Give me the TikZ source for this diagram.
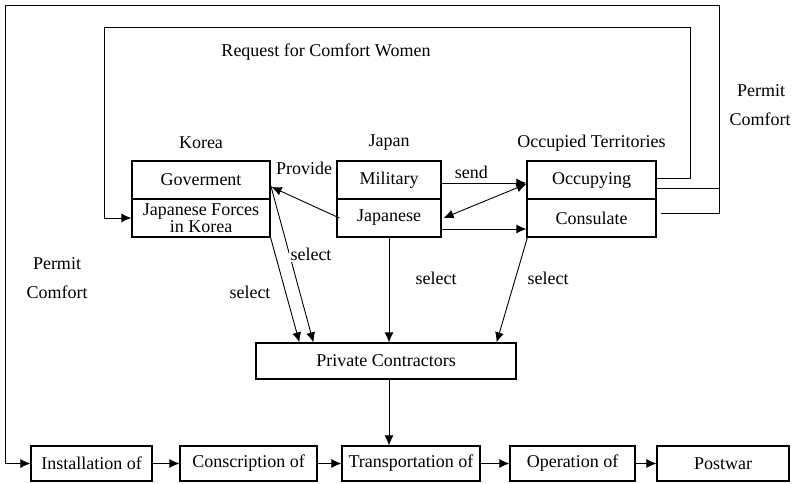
\documentclass[tikz,border=0pt]{standalone}
\usepackage{fontspec}
\setmainfont{Liberation Serif}
\usetikzlibrary{arrows.meta,calc,positioning}
\newcommand{\rowh}{38pt}
\tikzset{
    boxsty/.style={draw,line width=1.2pt,fill=white,rectangle,minimum height=\rowh,inner sep=2pt,anchor=center,align=center},
    lblsty/.style={inner sep=1pt,anchor=center},
    selsty/.style={fill=white,inner sep=2pt,anchor=center},
    consty/.style={line width=0.9pt},
}
\begin{document}
\begin{tikzpicture}[x=1pt,y=-1pt,>={Latex[length=10pt,width=9pt]},font=\fontsize{18}{16}\selectfont]
  \useasboundingbox (0,0) rectangle (797,484);

  % frame corners
  \coordinate (outerNW) at (5,5);
  \coordinate (outerNE) at (719,5);
  \coordinate (innerNW) at (104,27);
  \coordinate (innerNE) at (690,27);

  % Korea
  \node[boxsty,minimum width=138pt] (gov) at (201,180) {Goverment};
  \node[boxsty,minimum width=138pt,font=\fontsize{18}{17}\selectfont] (jfk) at (201,218) {Japanese Forces\\in Korea};
  % Japan
  \node[boxsty,minimum width=104pt] (mil) at (389,180) {Military};
  \node[boxsty,minimum width=104pt] (jpn) at (389,218) {Japanese};
  % Occupied Territories
  \node[boxsty,minimum width=129pt] (ocp) at (591.5,180) {Occupying};
  \node[boxsty,minimum width=129pt] (cns) at (591.5,218) {Consulate};

  \node[boxsty,minimum width=260pt,minimum height=36pt] (pc) at (386,361) {Private Contractors};

  % process chain
  \node[boxsty,minimum width=121pt,minimum height=35pt] (ins) at (91.5,463.5) {Installation of};
  \node[boxsty,minimum width=137pt,minimum height=35pt] (con) at (248.5,463.5) {Conscription of};
  \node[boxsty,minimum width=138pt,minimum height=35pt] (tra) at (411,463.5) {Transportation of};
  \node[boxsty,minimum width=125pt,minimum height=35pt] (ope) at (572.5,463.5) {Operation of};
  \node[boxsty,minimum width=132pt,minimum height=35pt] (pos) at (723,463.5) {Postwar};

  % headings
  \node[lblsty] (korea) at (201,143) {Korea};
  \node[lblsty] (japan) at (389,143) {Japan};
  \node[lblsty] (occter) at (591.5,143) {Occupied Territories};
  \node[lblsty] (request) at (326,52) {Request for Comfort Women};
  \node[lblsty] (permitR) at (761,91) {Permit};
  \node[lblsty] (comfortR) at (760,119) {Comfort};
  \node[lblsty] (permitL) at (57,264) {Permit};
  \node[lblsty] (comfortL) at (57,292) {Comfort};

  % frame lines
  \draw[consty,->] ([xshift=4pt,yshift=5pt]cns.east) -| (outerNE) -- (outerNW) |- (ins.west);
  \draw[consty] ([yshift=-8pt]ocp.east) -- ([yshift=-8pt]ocp.east -| outerNE);
  \draw[consty,->] ([yshift=2pt]ocp.east) -| (innerNE) -- (innerNW) |- (jfk.west);

  % between the three groups
  \draw[consty,->] ([yshift=-3pt]mil.east) -- node[lblsty,above=3pt,pos=0.35]{send} ([yshift=-3pt]ocp.west);
  \draw[consty,<->] ([xshift=2pt]jpn.east) -- ([yshift=-4pt]ocp.west);
  \draw[consty,->] ([yshift=-11pt]jpn.east) -- ([yshift=-11pt]cns.west);
  \draw[consty,->] ([xshift=3pt]jpn.west) -- ([yshift=-7pt,xshift=1pt]gov.east);
  \node[lblsty] (provide) at (304,168) {Provide};

  % select
  \draw[consty,->] (jfk.south east) -- ([xshift=44pt]pc.north west);
  \draw[consty,->] ([yshift=-5pt]gov.east) -- ([xshift=58pt]pc.north west);
  \draw[consty,->] (jpn.south) -- (jpn.south |- pc.north);
  \draw[consty,->] ([xshift=1pt]cns.south west) -- ([xshift=-20pt]pc.north east);
  \node[selsty] (sel1) at (250,292) {select};
  \node[selsty] (sel2) at (311,254) {select};
  \node[lblsty] (sel3) at (436,278) {select};
  \node[lblsty] (sel4) at (548,278) {select};

  \draw[consty,->] (pc.south -| jpn.south) -- (jpn.south |- tra.north);
  \draw[consty,->] (ins) -- (con);
  \draw[consty,->] (con) -- (tra);
  \draw[consty,->] (tra) -- (ope);
  \draw[consty,->] (ope) -- (pos);
\end{tikzpicture}
\end{document}
